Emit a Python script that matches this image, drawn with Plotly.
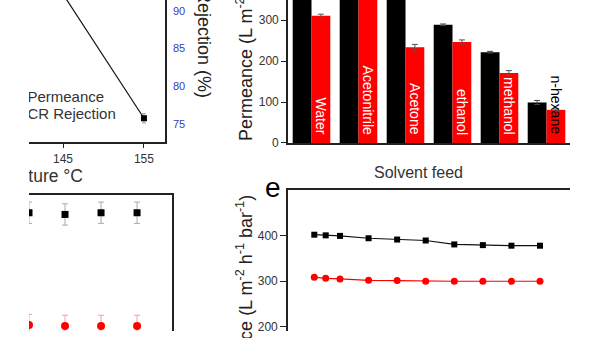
import plotly.graph_objects as go

W, H = 600, 338


def fx(x):
    """Pixel column -> paper x."""
    return x / W


def fy(y):
    """Pixel row (from top) -> paper y."""
    return 1 - y / H


FONT = "Liberation Sans, Arial, sans-serif"
AXC = "#222222"
TXT = "#333333"

# ---- CR rejection vs. temperature ----
temperature = [145, 155]
cr_rejection = [92.2, 75.8]
cr_rejection_err = [0.6, 0.6]
legend_labels = ["Permeance", "CR Rejection"]

# ---- Solvent permeance (bar chart) ----
solvents = ["Water", "Acetonitrile", "Acetone", "ethanol", "methanol", "n-hexane"]
perm_pristine = [420, 560, 410, 289, 222, 99]
perm_pristine_err = [0, 0, 0, 2, 2, 5]
perm_modified = [311, 470, 234, 247, 171, 81]
perm_modified_err = [4, 0, 7, 5, 6, 2]

# ---- Long-term stability (cycles) ----
cycle = [5, 6, 7, 8]
cycle_perm = [458, 454, 458, 458]
cycle_perm_err = [25, 25, 25, 25]
cycle_rej = [194, 192, 192, 192]
cycle_rej_err = [25, 25, 25, 25]

# ---- Solvent feed over time ----
time_h = [0.1, 0.5, 1, 2, 3, 4, 5, 6, 7, 8]
feed_perm_a = [402, 400.6, 399.4, 394.2, 391.4, 389.3, 380.7, 379.2, 377.9, 377.9]
feed_perm_b = [309, 306.4, 305, 302.1, 301.4, 300, 300, 300, 300, 300]

fig = go.Figure()

# rejection line
fig.add_trace(go.Scatter(
    x=temperature, y=cr_rejection, mode="lines+markers",
    line=dict(color="#111111", width=1.2),
    marker=dict(symbol="square", size=6, color="black"),
    error_y=dict(type="data", array=cr_rejection_err, color="#999999", width=2, thickness=1),
    xaxis="x", yaxis="y", showlegend=False, cliponaxis=True,
))
# in-plot legend text
fig.add_trace(go.Scatter(
    x=[140.6, 140.6], y=[78.5, 76.2], mode="text", text=legend_labels,
    textposition="middle right", textfont=dict(family=FONT, size=15, color=TXT),
    xaxis="x", yaxis="y", showlegend=False, cliponaxis=True,
))

# bars
fig.add_trace(go.Bar(
    x=solvents, y=perm_pristine, marker=dict(color="black", line=dict(width=0)),
    error_y=dict(type="data", array=perm_pristine_err, color="#444444", width=3, thickness=1),
    xaxis="x2", yaxis="y2", showlegend=False,
))
fig.add_trace(go.Bar(
    x=solvents, y=perm_modified, marker=dict(color="#ff0000", line=dict(width=0)),
    error_y=dict(type="data", array=perm_modified_err, color="#555555", width=3, thickness=1),
    xaxis="x2", yaxis="y2", showlegend=False,
))

# cycles
fig.add_trace(go.Scatter(
    x=cycle, y=cycle_perm, mode="markers",
    marker=dict(symbol="square", size=7, color="black"),
    error_y=dict(type="data", array=cycle_perm_err, color="#aaaaaa", width=3, thickness=1),
    xaxis="x3", yaxis="y3", showlegend=False, cliponaxis=True,
))
fig.add_trace(go.Scatter(
    x=cycle, y=cycle_rej, mode="markers",
    marker=dict(symbol="circle", size=8, color="#ff0000"),
    error_y=dict(type="data", array=cycle_rej_err, color="#f0a0a0", width=3, thickness=1),
    xaxis="x3", yaxis="y3", showlegend=False, cliponaxis=True,
))

# solvent feed
fig.add_trace(go.Scatter(
    x=time_h, y=feed_perm_a, mode="lines+markers",
    line=dict(color="#111111", width=1.2),
    marker=dict(symbol="square", size=6, color="black"),
    xaxis="x4", yaxis="y4", showlegend=False,
))
fig.add_trace(go.Scatter(
    x=time_h, y=feed_perm_b, mode="lines+markers",
    line=dict(color="#ff0000", width=1.2),
    marker=dict(symbol="circle", size=7, color="#ff0000"),
    xaxis="x4", yaxis="y4", showlegend=False,
))

# x-axis title of the temperature panel
fig.add_trace(go.Scatter(
    x=[54], y=[0.5], mode="text", text=["Temperature °C"],
    textposition="middle left", textfont=dict(family=FONT, size=17.5, color=TXT),
    xaxis="x5", yaxis="y5", showlegend=False, cliponaxis=True,
))

common = dict(showgrid=False, zeroline=False, linecolor=AXC, linewidth=1.6,
              tickcolor=AXC, tickwidth=1.4, tickfont=dict(family=FONT, size=12, color=TXT))

fig.update_layout(
    width=W, height=H, margin=dict(l=0, r=0, t=0, b=0),
    paper_bgcolor="white", plot_bgcolor="rgba(0,0,0,0)",
    barmode="group", bargap=0.2, bargroupgap=0,
    font=dict(family=FONT),
    xaxis=dict(domain=[fx(29), fx(165)], range=[140.8, 157.6], anchor="y",
               showline=True, ticks="outside", ticklen=4, tickvals=[145, 155], **common),
    yaxis=dict(domain=[fy(145.5), 1], range=[72.6, 91.42], anchor="x", side="right",
               showline=True, ticks="", tickvals=[75, 80, 85, 90],
               ticklabelstandoff=4,
               **{k: v for k, v in common.items() if k != "tickfont"},
               tickfont=dict(family=FONT, size=11, color="#3c3cb4")),
    xaxis2=dict(domain=[fx(288), fx(570)], anchor="y2", type="category",
                showline=True, ticks="", showticklabels=False, **common),
    yaxis2=dict(domain=[fy(146), 1], range=[0, 349.6], anchor="x2",
                showline=True, ticks="outside", ticklen=5, tickvals=[0, 100, 200, 300], **common),
    xaxis3=dict(domain=[fx(29), fx(172)], range=[5, 8.97], anchor="y3", side="top",
                showline=True, ticks="", showticklabels=False, **common),
    yaxis3=dict(domain=[0, fy(199)], range=[180, 500], anchor="x3", side="right",
                showline=True, ticks="", showticklabels=False, **common),
    xaxis4=dict(domain=[fx(288), fx(570)], range=[-0.82, 9.05], anchor="y4", side="top",
                showline=True, ticks="", showticklabels=False, **common),
    yaxis4=dict(domain=[0, fy(194)], range=[191, 500], anchor="x4",
                showline=True, ticks="outside", ticklen=6, tickvals=[200, 300, 400], **common),
    xaxis5=dict(domain=[fx(29), fx(229)], range=[0, 200], visible=False),
    yaxis5=dict(domain=[fy(197), fy(165)], range=[0, 1], visible=False),
)

ann = []
ann.append(dict(text="Rejection (%)", x=fx(204), y=fy(102), xref="paper", yref="paper",
                textangle=90, xanchor="center", yanchor="bottom", showarrow=False,
                font=dict(family=FONT, size=18, color=AXC)))
perm_title = "Permeance (L m<sup>-2</sup> h<sup>-1</sup> bar<sup>-1</sup>)"
ann.append(dict(text=perm_title, x=fx(245), y=fy(146), xref="paper", yref="paper",
                textangle=-90, xanchor="center", yanchor="bottom", showarrow=False,
                font=dict(family=FONT, size=18, color=AXC)))
ann.append(dict(text=perm_title, x=fx(245), y=fy(197), xref="paper", yref="paper",
                textangle=-90, xanchor="center", yanchor="top", showarrow=False,
                font=dict(family=FONT, size=18, color=AXC)))
ann.append(dict(text="Solvent feed", x=fx(418), y=fy(176), xref="paper", yref="paper",
                xanchor="center", yanchor="middle", showarrow=False,
                font=dict(family=FONT, size=16, color=TXT)))
ann.append(dict(text="e", x=fx(273), y=fy(191), xref="paper", yref="paper",
                xanchor="center", yanchor="middle", showarrow=False,
                font=dict(family=FONT, size=28, color="black")))
for s in solvents:
    ann.append(dict(text=s, x=s, y=0, xref="x2", yref="y2", xshift=9.4, yshift=6,
                    textangle=90, xanchor="center", yanchor="bottom", showarrow=False,
                    font=dict(family=FONT, size=14,
                              color="black" if s == "n-hexane" else "white")))
fig.update_layout(annotations=ann)

fig.write_html("out.html")
